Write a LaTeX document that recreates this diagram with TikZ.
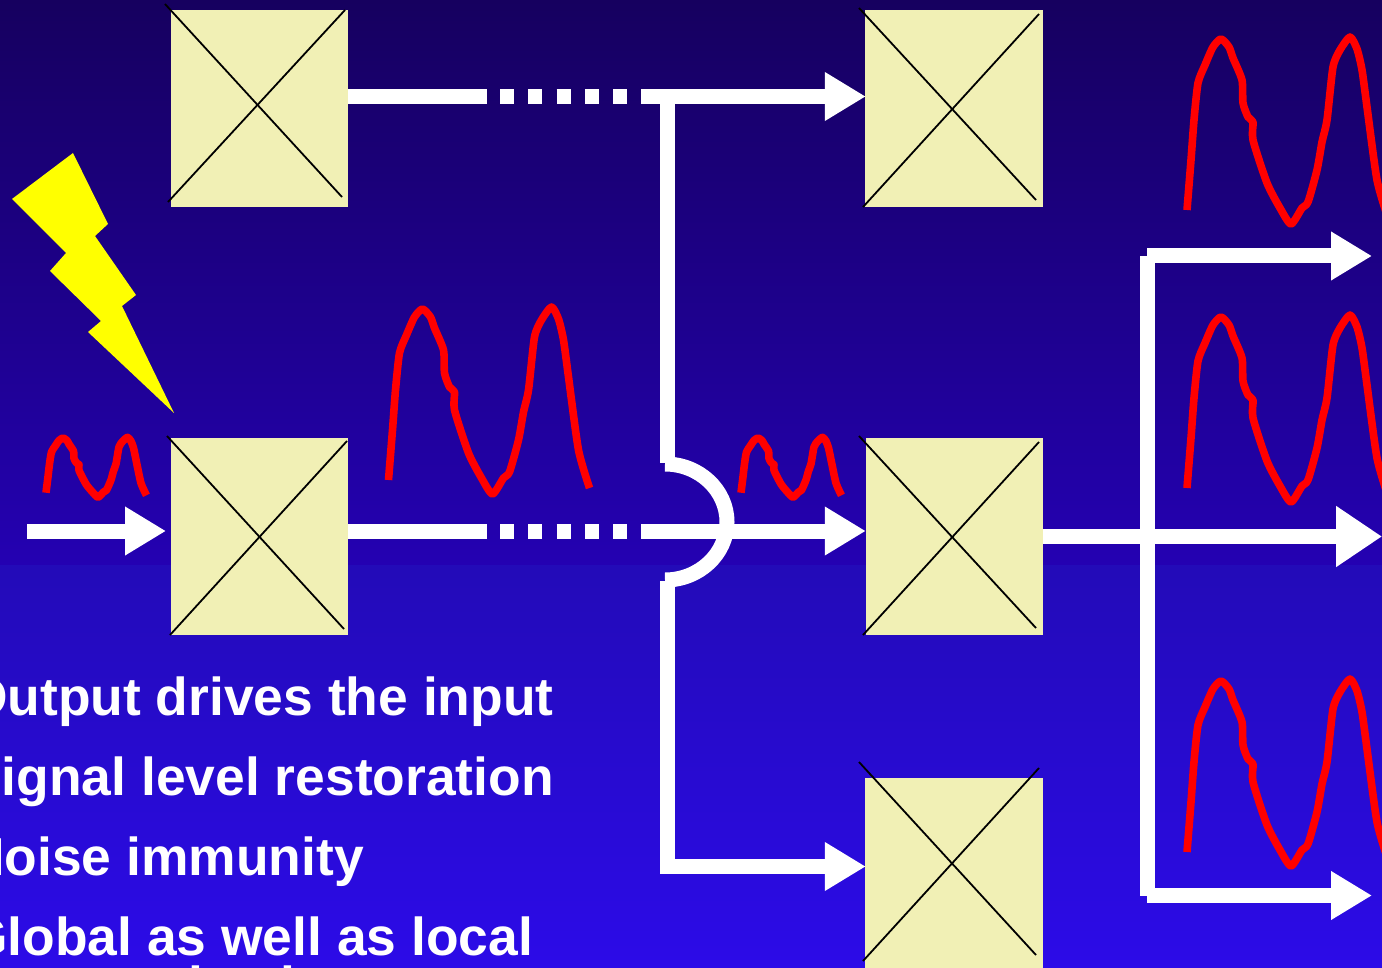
\documentclass[tikz,border=0pt]{standalone}
\usepackage{fontspec}
\setmainfont{Liberation Sans}
\usetikzlibrary{arrows.meta}
\definecolor{gatefill}{HTML}{F1F0B5}
\definecolor{bgA}{HTML}{16005F}
\definecolor{bgB}{HTML}{2401B2}
\definecolor{bgC}{HTML}{230BB8}
\definecolor{bgD}{HTML}{2C0BE8}
\tikzset{
  gate/.style={fill=gatefill,draw=none,inner sep=0pt,minimum width=177pt,minimum height=197pt},
  crossline/.style={black,line width=1.8pt},
  wire/.style={white,line width=15pt},
  dots/.style={white,line width=15pt,dash pattern=on 14pt off 14.3pt},
  arrowwire/.style={wire,-{Triangle[length=41pt,width=46pt]}},
  bigarrow/.style={wire,-{Triangle[length=46pt,width=58pt]}},
  wavestroke/.style={red,line width=7.6pt,line join=round},
  label/.style={white,font=\fontsize{53.4}{53.4}\selectfont\bfseries,inner sep=0pt,anchor=base west},
  bolt/.style={fill={rgb,255:red,255;green,255;blue,0},draw=none}
}
\newcommand{\wavecurve}[1]{\draw[wavestroke,#1] plot[smooth,tension=.4] coordinates {(1187,210) (1191,160) (1194,120) (1198,83) (1205,65) (1213,47) (1221,39) (1229,47) (1233,58) (1242,80) (1243,103) (1248,117) (1253,122) (1253,140) (1267,183) (1280,208) (1291,224) (1302,208) (1308,202) (1317,170) (1322,142) (1327,120) (1333,67) (1340,50) (1350,37) (1357,49) (1362,70) (1367,107) (1377,180) (1388,218)};}
\begin{document}
\begin{tikzpicture}[x=1pt,y=-1pt]
\useasboundingbox (0,0) rectangle (1382,968);
\clip (0,0) rectangle (1382,968);
% background
\shade[top color=bgA,bottom color=bgB,draw=none] (0,0) rectangle (1382,565);
\shade[top color=bgC,bottom color=bgD,draw=none] (0,565) rectangle (1382,968);
% text
\node[label] (t1) at (-34,715.5) {Output drives the input};
\node[label] (t2) at (-34,795.5) {Signal level restoration};
\node[label] (t3) at (-34,875.5) {Noise immunity};
\node[label] (t4) at (-34,955.5) {Global as well as local};
\node[label] (t5) at (-34,1004.5) {communication};
% bolt
\path[bolt] (73,153) -- (108,224) -- (95,236) -- (136,295) -- (122,306) -- (174,413) -- (88,332) -- (101,321) -- (50,271) -- (66,253) -- (12,199) -- cycle;
% gates
\node[gate] (g1) at (259.5,108.5) {};
\node[gate,minimum width=178pt] (g2) at (954,108.5) {};
\node[gate] (g3) at (259.5,536.5) {};
\node[gate] (g4) at (954.5,536.5) {};
\node[gate,minimum width=178pt] (g5) at (954,876.5) {};
\draw[crossline] (165,4) -- (342,197);
\draw[crossline] (168,202) -- (345,10);
\draw[crossline] (859,8) -- (1036,200);
\draw[crossline] (863,207) -- (1039,14);
\draw[crossline] (167,436) -- (344,629);
\draw[crossline] (170,635) -- (347,441);
\draw[crossline] (859,436) -- (1036,628);
\draw[crossline] (863,635) -- (1039,442);
\draw[crossline] (859,762) -- (1036,955);
\draw[crossline] (863,961) -- (1039,768);
% named wire points
\coordinate (a1) at (487,96.5);
\coordinate (a2) at (500,96.5);
\coordinate (a3) at (627,96.5);
\coordinate (a4) at (641,96.5);
\coordinate (a5) at (667.5,96.5);
\coordinate (a6) at (667.5,463);
\coordinate (b1) at (487,531);
\coordinate (b2) at (500,531);
\coordinate (b3) at (627,531);
\coordinate (b4) at (641,531);
\coordinate (c1) at (27,531);
\coordinate (c2) at (166,531);
\coordinate (d1) at (667.5,581);
\coordinate (d2) at (667.5,873.5);
\coordinate (d3) at (666,866.5);
\coordinate (e1) at (1147.5,256);
\coordinate (e2) at (1147.5,895.5);
\coordinate (e3) at (1147,256);
\coordinate (e4) at (1372,256);
\coordinate (e5) at (1147,895.5);
\coordinate (e6) at (1372,895.5);
\coordinate (e7) at (1382,536.5);
% top wire
\draw[wire] (g1.east |- a1) -- (a1);
\draw[dots] (a2) -- (a3);
\draw[arrowwire] (a4) -- ([xshift=1pt]g2.west |- a4);
\draw[wire] (a5) -- (a6);
% middle wire
\draw[wire] (g3.east |- b1) -- (b1);
\draw[dots] (b2) -- (b3);
\draw[arrowwire] (b4) -- (g4.west |- b4);
\draw[arrowwire] (c1) -- (c2);
% crossing hop
\draw[wire] (665,464) .. controls (699,464) and (727,490) .. (727,522) .. controls (727,554) and (699,580) .. (665,580);
% lower branch
\draw[wire] (d1) -- (d2);
\draw[arrowwire] (d3) -- ([xshift=1pt]g5.west |- d3);
% output wires
\draw[wire] (e1) -- (e2);
\draw[arrowwire] (e3) -- (e4);
\draw[arrowwire] (e5) -- (e6);
\draw[bigarrow] (g4.east |- e7) -- (e7);
% waveforms
\wavecurve{}
\wavecurve{shift={(0,278)}}
\wavecurve{shift={(0,642)}}
\wavecurve{shift={(-798.5,270)}}
\wavecurve{shift={(46,438)},xscale=.5,yscale=.32,shift={(-1187,-39)}}
\wavecurve{shift={(741,438)},xscale=.5,yscale=.32,shift={(-1187,-39)}}
\end{tikzpicture}
\end{document}
